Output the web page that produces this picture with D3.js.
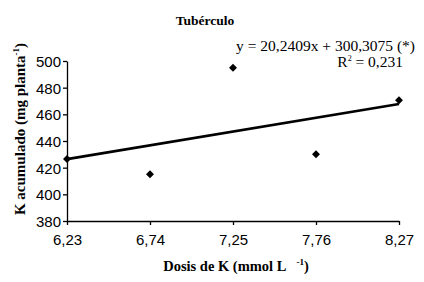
<!DOCTYPE html>
<html>
<head>
<meta charset="utf-8">
<script src="https://cdn.jsdelivr.net/npm/d3@7"></script>
<style>
  body { margin: 0; background: #fff; }
  svg { display: block; }
  text { white-space: pre; }
</style>
</head>
<body>
<div id="chart"></div>
<script>
const doses = [6.23, 6.74, 7.25, 7.76, 8.27];
const kAcum = [426.5, 415, 495, 430, 470.5];
const yTicks = [380, 400, 420, 440, 460, 480, 500];
const xTickLabels = ["6,23", "6,74", "7,25", "7,76", "8,27"];
const fitSlope = 20.2409, fitIntercept = 300.3075;

const W = 424, H = 282;
const margin = { top: 61, right: 25, bottom: 61, left: 67 };

const svg = d3.select("#chart").append("svg")
    .attr("width", W).attr("height", H);

const x = d3.scaleLinear()
    .domain([6.23, 8.27])
    .range([margin.left, W - margin.right]);
const y = d3.scaleLinear()
    .domain([380, 500])
    .range([H - margin.bottom, margin.top]);

// axes
const xAxis = svg.append("g")
    .attr("transform", `translate(0,${y(380)})`)
    .call(d3.axisBottom(x).tickValues(doses).tickFormat((d, i) => xTickLabels[i]).tickSize(4).tickSizeOuter(0));
const yAxis = svg.append("g")
    .attr("transform", `translate(${x(6.23)},0)`)
    .call(d3.axisLeft(y).tickValues(yTicks).tickSize(4).tickSizeOuter(0));

[xAxis, yAxis].forEach(g => {
    g.select(".domain").attr("stroke", "#000").attr("stroke-width", 1.3);
    g.selectAll(".tick line").attr("stroke", "#000").attr("stroke-width", 1.3);
    g.selectAll("text")
        .attr("fill", "#000")
        .style("font-family", "'Liberation Sans', Arial, sans-serif")
        .style("font-size", "15px");
});
xAxis.selectAll("text").attr("dy", "1.1em");
yAxis.selectAll("text").attr("x", -6).attr("dy", "0.36em");

// regression line
svg.append("line")
    .attr("x1", x(doses[0])).attr("y1", y(fitSlope * doses[0] + fitIntercept))
    .attr("x2", x(doses[4])).attr("y2", y(fitSlope * doses[4] + fitIntercept))
    .attr("stroke", "#000").attr("stroke-width", 2.6);

// points
svg.append("g").selectAll("path")
    .data(doses)
    .join("path")
    .attr("d", d3.symbol(d3.symbolDiamond2, 40))
    .attr("transform", (d, i) => `translate(${x(d)},${y(kAcum[i])})`)
    .attr("fill", "#000");

const serif = "'Liberation Serif', 'Times New Roman', serif";

// title
svg.append("text")
    .attr("x", 205).attr("y", 25)
    .attr("text-anchor", "middle")
    .style("font-family", serif).style("font-weight", "bold").style("font-size", "13.5px")
    .text("Tubérculo");

// equation
svg.append("text")
    .attr("x", 415).attr("y", 51)
    .attr("text-anchor", "end")
    .style("font-family", serif).style("font-size", "15.5px")
    .text("y = 20,2409x + 300,3075 (*)");
const r2 = svg.append("text")
    .attr("x", 403).attr("y", 67)
    .attr("text-anchor", "end")
    .style("font-family", serif).style("font-size", "15.5px");
r2.append("tspan").text("R");
r2.append("tspan").attr("dy", -6).style("font-size", "8px").text("2");
r2.append("tspan").attr("dy", 6).text(" = 0,231");

// y axis label
const yl = svg.append("text")
    .attr("transform", "translate(25,129) rotate(-90)")
    .attr("text-anchor", "middle")
    .style("font-family", serif).style("font-weight", "bold").style("font-size", "15px");
yl.append("tspan").text("K acumulado (mg planta");
yl.append("tspan").attr("dy", -6).style("font-size", "9px").text("-1");
yl.append("tspan").attr("dy", 6).text(")");

// x axis label
const xl = svg.append("text")
    .attr("x", 236).attr("y", 271)
    .attr("text-anchor", "middle")
    .style("font-family", serif).style("font-weight", "bold").style("font-size", "14.5px");
xl.append("tspan").text("Dosis de K (mmol L   ");
xl.append("tspan").attr("dy", -6).style("font-size", "9px").text("-1");
xl.append("tspan").attr("dy", 6).text(")");
</script>
</body>
</html>
